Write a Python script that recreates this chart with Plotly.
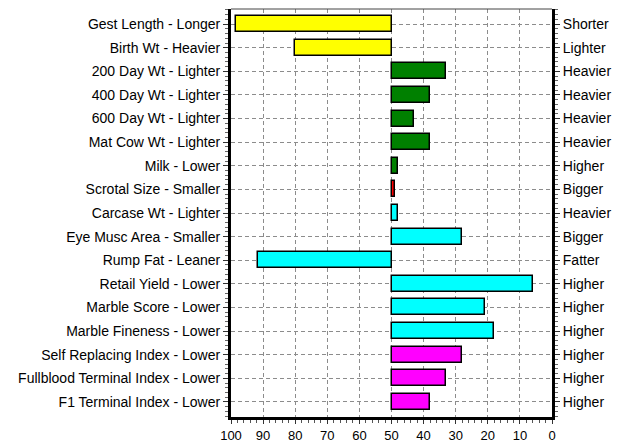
import plotly.graph_objects as go

traits = ["Gest Length - Longer", "Birth Wt - Heavier", "200 Day Wt - Lighter",
          "400 Day Wt - Lighter", "600 Day Wt - Lighter", "Mat Cow Wt - Lighter",
          "Milk - Lower", "Scrotal Size - Smaller", "Carcase Wt - Lighter",
          "Eye Musc Area - Smaller", "Rump Fat - Leaner", "Retail Yield - Lower",
          "Marble Score - Lower", "Marble Fineness - Lower", "Self Replacing Index - Lower",
          "Fullblood Terminal Index - Lower", "F1 Terminal Index - Lower"]
right_labels = ["Shorter", "Lighter", "Heavier", "Heavier", "Heavier", "Heavier",
                "Higher", "Bigger", "Heavier", "Bigger", "Fatter", "Higher",
                "Higher", "Higher", "Higher", "Higher", "Higher"]
values = [98.5, 80, 33, 38, 43, 38, 48, 49, 48, 28, 91.5, 6, 21, 18, 28, 33, 38]
colors = ["#FFFF00", "#FFFF00", "#008000", "#008000", "#008000", "#008000",
          "#008000", "#FF0000", "#00FFFF", "#00FFFF", "#00FFFF", "#00FFFF",
          "#00FFFF", "#00FFFF", "#FF00FF", "#FF00FF", "#FF00FF"]
baseline = 50
x_ticks = [100, 90, 80, 70, 60, 50, 40, 30, 20, 10, 0]

idx = list(range(len(traits)))
yrange = [len(traits) - 1 + 0.64, -0.64]

fig = go.Figure()
fig.add_trace(go.Bar(
    y=idx, x=[v - baseline for v in values], base=baseline, orientation="h",
    marker=dict(color=colors, line=dict(color="#000000", width=1.5)),
    width=0.68, showlegend=False, hoverinfo="skip"))
fig.add_trace(go.Scatter(y=idx, x=[baseline] * len(idx), yaxis="y2", mode="markers",
                         marker=dict(opacity=0), showlegend=False, hoverinfo="skip"))

font = dict(family="Liberation Sans, Arial, sans-serif", size=14, color="#000000")
xfont = dict(family="Liberation Sans, Arial, sans-serif", size=13, color="#000000")
grid = dict(showgrid=True, gridcolor="#8c8c8c", griddash="4px,3px", gridwidth=1)
# page body has an 8px margin, so the figure is offset by (8, 8)
fig.update_layout(
    width=614, height=435,
    margin=dict(l=223, r=70, t=1, b=26, autoexpand=False),
    paper_bgcolor="white", plot_bgcolor="white",
    font=font, bargap=0,
    xaxis=dict(range=[100, 0], tickvals=x_ticks, ticktext=[str(t) for t in x_ticks],
               **grid, automargin=False,
               showline=True, linecolor="#000000", linewidth=3,
               ticks="outside", ticklen=4, tickcolor="#333", tickwidth=1,
               minor=dict(dtick=2, ticks="outside", ticklen=3, tickcolor="#555", showgrid=False),
               zeroline=False, tickfont=xfont),
    yaxis=dict(range=yrange, tickvals=idx, ticktext=traits, **grid, automargin=False,
               showline=True, linecolor="#000000", linewidth=3,
               ticks="outside", ticklen=5, tickcolor="#333", tickwidth=1,
               minor=dict(dtick=0.2, tick0=0, ticks="outside", ticklen=3, tickcolor="#666", showgrid=False),
               zeroline=False, tickfont=font),
    yaxis2=dict(range=yrange, tickvals=idx, ticktext=right_labels, overlaying="y",
                side="right", showgrid=False, automargin=False,
                showline=True, linecolor="#000000", linewidth=3,
                ticks="outside", ticklen=5, tickcolor="#333", tickwidth=1,
                minor=dict(dtick=0.2, tick0=0, ticks="outside", ticklen=3, tickcolor="#666"),
                zeroline=False, tickfont=font),
    shapes=[dict(type="line", xref="paper", yref="paper", x0=0, x1=1, y0=1, y1=1,
                 line=dict(color="#444", width=1))],
)
fig.write_html("out.html")
